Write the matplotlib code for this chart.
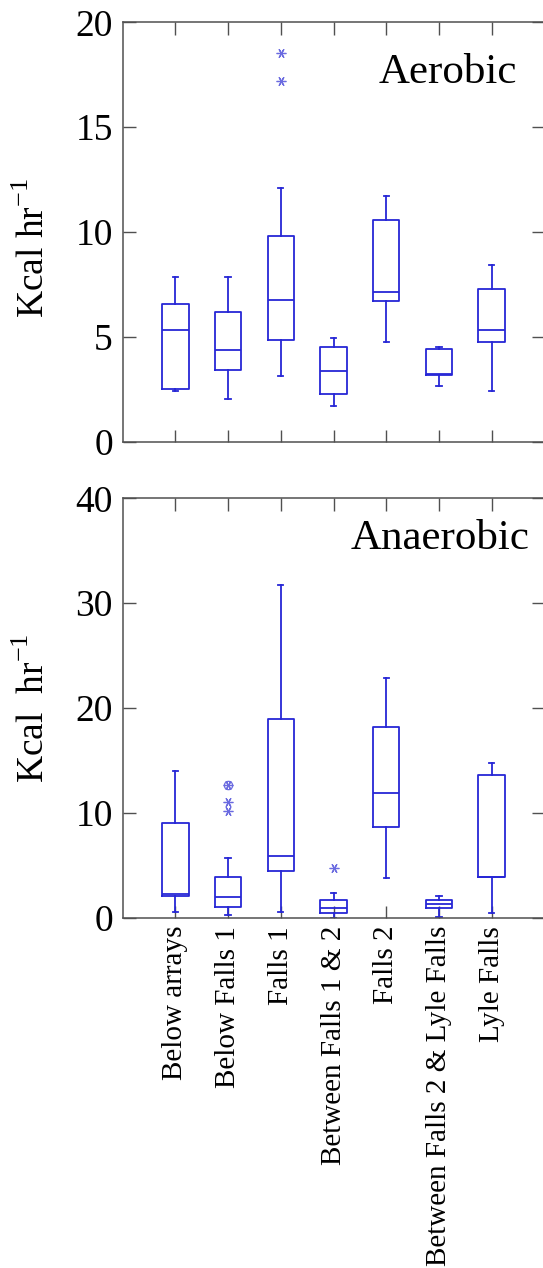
import numpy as np
import matplotlib.pyplot as plt

plt.rcParams['font.family'] = ['Liberation Serif', 'DejaVu Serif']
plt.rcParams['mathtext.fontset'] = 'custom'
plt.rcParams['mathtext.rm'] = 'Liberation Serif'

sites = ['Below arrays', 'Below Falls 1', 'Falls 1', 'Between Falls 1 & 2',
         'Falls 2', 'Between Falls 2 & Lyle Falls', 'Lyle Falls']

# aerobic box stats (Kcal/hr)
aer_lo = [2.43, 2.05, 3.15, 1.69, 4.77, 2.66, 2.43]
aer_q1 = [2.50, 3.40, 4.83, 2.26, 6.72, 3.16, 4.77]
aer_med = [5.33, 4.39, 6.77, 3.35, 7.12, 3.23, 5.34]
aer_q3 = [6.55, 6.17, 9.79, 4.52, 10.57, 4.40, 7.28]
aer_hi = [7.85, 7.84, 12.10, 4.94, 11.73, 4.52, 8.43]
aer_out = [[], [], [18.52, 17.22], [], [], [], []]

# anaerobic box stats (Kcal/hr)
ana_lo = [0.57, 0.25, 0.57, 0.0, 3.75, 0.05, 0.41]
ana_q1 = [2.10, 0.99, 4.42, 0.40, 8.65, 0.95, 3.85]
ana_med = [2.23, 1.97, 5.85, 0.90, 11.92, 1.32, 3.91]
ana_q3 = [9.00, 3.91, 18.92, 1.72, 18.19, 1.70, 13.61]
ana_hi = [13.99, 5.66, 31.70, 2.33, 22.89, 2.07, 14.79]
ana_out = [[], [10.2, 11.0, 12.66], [], [4.72], [], [], []]
ana_circ = [[], [12.66], [], [], [], [], []]

blue = '#2626d6'
light = '#6b6be0'
spine = '#505050'
asterisk = (6, 2, 90)


def stats(lo, q1, med, q3, hi, out):
    return [dict(whislo=lo[i], q1=q1[i], med=med[i], q3=q3[i], whishi=hi[i],
                 fliers=out[i]) for i in range(len(lo))]


def draw(ax, st, ymax, step, label, lx, ly, ylab, laby):
    pos = np.arange(1, len(st) + 1)
    ax.bxp(st, positions=pos, widths=0.5, capwidths=0.1, showfliers=True,
           boxprops=dict(color=blue, lw=1.3),
           medianprops=dict(color=blue, lw=1.3),
           whiskerprops=dict(color=blue, lw=1.3),
           capprops=dict(color=blue, lw=1.3),
           flierprops=dict(marker=asterisk, markersize=7, markeredgecolor=light,
                           markeredgewidth=0.9, linestyle='none'))
    ax.set_xlim(0, len(st) + 1)
    ax.set_ylim(0, ymax)
    ax.set_yticks(np.arange(0, ymax + 1, step))
    ax.set_xticks(pos)
    ax.tick_params(direction='in', top=True, right=True, length=9, width=1,
                   color=spine, labelsize=27, pad=7)
    ax.tick_params(axis='x', labelsize=21, pad=6)
    for s in ax.spines.values():
        s.set_color(spine)
        s.set_linewidth(1.1)
    ax.text(lx, ly, label, transform=ax.transAxes, ha='right', va='baseline',
            fontsize=31)
    ax.set_ylabel(ylab, fontsize=27)
    ax.yaxis.set_label_coords(-0.168, laby)


fig = plt.figure(figsize=(5.43, 12.68), dpi=100)
ax1 = fig.add_axes([0.226, 0.6517, 0.7764, 0.3307])
ax2 = fig.add_axes([0.226, 0.2763, 0.7764, 0.3307])

draw(ax1, stats(aer_lo, aer_q1, aer_med, aer_q3, aer_hi, aer_out), 20, 5,
     'Aerobic', 0.9345, 0.8546, 'Kcal hr$^{\\mathregular{-1}}$', 0.462)
ax1.set_xticklabels([])

draw(ax2, stats(ana_lo, ana_q1, ana_med, ana_q3, ana_hi, ana_out), 40, 10,
     'Anaerobic', 0.966, 0.878, 'Kcal  hr$^{\\mathregular{-1}}$', 0.5)
for i, vals in enumerate(ana_circ):
    if vals:
        ax2.plot([i + 1] * len(vals), vals, 'o', mfc='none', mec=light,
                 ms=6, mew=0.9)
ax2.set_xticklabels(sites, rotation=90, va='top', ha='center')

fig.savefig('out.png', dpi=100)
